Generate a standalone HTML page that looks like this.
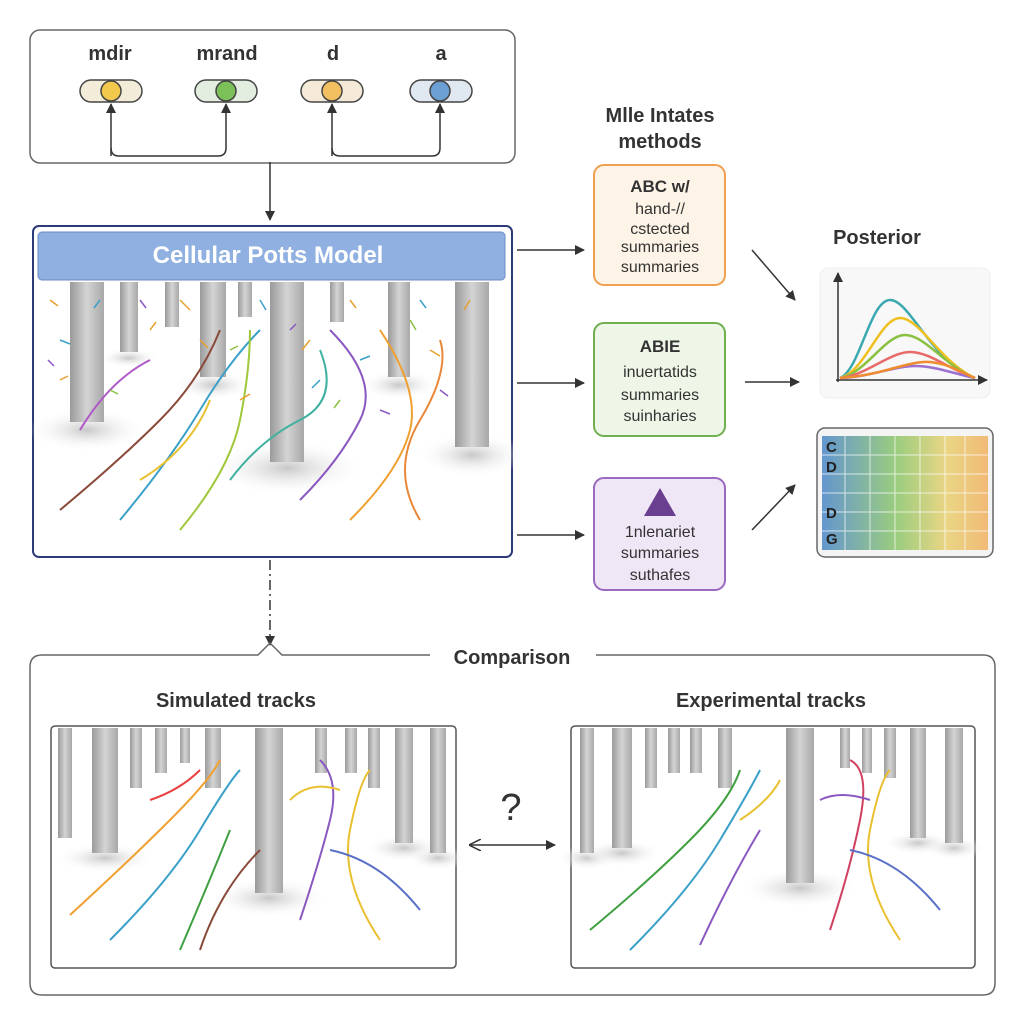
<!DOCTYPE html>
<html><head><meta charset="utf-8"><style>
html,body{margin:0;padding:0;background:#fff}
svg{display:block}
text{font-family:"Liberation Sans",sans-serif}
</style></head><body>
<svg width="1024" height="1024" viewBox="0 0 1024 1024" xmlns="http://www.w3.org/2000/svg">
<defs>
<marker id="ah" markerUnits="userSpaceOnUse" markerWidth="10" markerHeight="10" refX="9" refY="5" orient="auto"><path d="M0,0 L10,5 L0,10 z" fill="#333"/></marker>
<marker id="ah2" markerUnits="userSpaceOnUse" markerWidth="12" markerHeight="12" refX="1" refY="6" orient="auto"><path d="M12,0 L0,6 L12,12" fill="none" stroke="#333" stroke-width="1.5"/></marker>
<linearGradient id="pil" x1="0" x2="1"><stop offset="0" stop-color="#9a9a9a"/><stop offset="0.5" stop-color="#d4d4d4"/><stop offset="1" stop-color="#a8a8a8"/></linearGradient>
<linearGradient id="hm" x1="0" x2="1"><stop offset="0" stop-color="#4a86c8"/><stop offset="0.45" stop-color="#8cc66a"/><stop offset="0.75" stop-color="#e8d070"/><stop offset="1" stop-color="#f0b060"/></linearGradient>
<radialGradient id="gnd"><stop offset="0" stop-color="#c8c8c8"/><stop offset="1" stop-color="#ffffff" stop-opacity="0"/></radialGradient>
</defs>

<rect x="30" y="30" width="485" height="133" rx="10" fill="#fff" stroke="#666" stroke-width="1.5"/>
<g font-size="20" font-weight="bold" fill="#333" text-anchor="middle">
<text x="110" y="60">mdir</text><text x="227" y="60">mrand</text><text x="333" y="60">d</text><text x="441" y="60">a</text></g>
<g stroke="#444" stroke-width="1.5">
<rect x="80" y="80" width="62" height="22" rx="11" fill="#f3ecd8"/><circle cx="111" cy="91" r="10" fill="#f2c94c"/>
<rect x="195" y="80" width="62" height="22" rx="11" fill="#e4eee0"/><circle cx="226" cy="91" r="10" fill="#7cc05a"/>
<rect x="301" y="80" width="62" height="22" rx="11" fill="#f5ead8"/><circle cx="332" cy="91" r="10" fill="#f2c060"/>
<rect x="410" y="80" width="62" height="22" rx="11" fill="#e0e8f2"/><circle cx="440" cy="91" r="10" fill="#6c9fd4"/>
</g>
<g fill="none" stroke="#333" stroke-width="1.5">
<path d="M111,156 V104" marker-end="url(#ah)"/>
<path d="M111,148 Q111,156 119,156 H218 Q226,156 226,148 V104" marker-end="url(#ah)"/>
<path d="M332,156 V104" marker-end="url(#ah)"/>
<path d="M332,148 Q332,156 340,156 H432 Q440,156 440,148 V104" marker-end="url(#ah)"/>
<path d="M270,162 V220" marker-end="url(#ah)"/>
</g>

<rect x="33" y="226" width="479" height="331" rx="6" fill="#fff" stroke="#2c3a78" stroke-width="2"/>
<rect x="38" y="232" width="467" height="48" rx="4" fill="#8fb0e0" stroke="#6a8cc8"/>
<text x="268" y="263" font-size="24" font-weight="bold" fill="#fff" text-anchor="middle">Cellular Potts Model</text>
<g fill="url(#gnd)">
<ellipse cx="87" cy="430" rx="60" ry="22"/><ellipse cx="287" cy="468" rx="80" ry="28"/><ellipse cx="472" cy="455" rx="55" ry="22"/>
<ellipse cx="213" cy="385" rx="40" ry="15"/><ellipse cx="399" cy="385" rx="40" ry="15"/><ellipse cx="129" cy="358" rx="30" ry="10"/>
</g>
<g>
<rect x="70" y="282" width="34" height="140" fill="url(#pil)"/>
<rect x="120" y="282" width="18" height="70" fill="url(#pil)"/>
<rect x="165" y="282" width="14" height="45" fill="url(#pil)"/>
<rect x="200" y="282" width="26" height="95" fill="url(#pil)"/>
<rect x="238" y="282" width="14" height="35" fill="url(#pil)"/>
<rect x="270" y="282" width="34" height="180" fill="url(#pil)"/>
<rect x="330" y="282" width="14" height="40" fill="url(#pil)"/>
<rect x="388" y="282" width="22" height="95" fill="url(#pil)"/>
<rect x="455" y="282" width="34" height="165" fill="url(#pil)"/>
</g>
<g fill="none" stroke-width="2">
<path d="M60,510 Q120,460 160,420 T220,330" stroke="#8a4a3a"/>
<path d="M120,520 Q170,460 200,410 T260,330" stroke="#3aa0c8"/>
<path d="M180,530 Q230,470 240,420 T250,330" stroke="#a0c83a"/>
<path d="M300,500 Q340,460 360,420 T330,330" stroke="#8a58c0"/>
<path d="M350,520 Q400,470 410,430 T380,330" stroke="#f0a030"/>
<path d="M420,520 Q390,470 420,420 T440,340" stroke="#e88838"/>
<path d="M80,430 Q110,380 150,360" stroke="#b05ac8"/>
<path d="M230,480 Q260,440 300,420 T320,350" stroke="#40b0a0"/>
<path d="M140,480 Q190,450 210,400" stroke="#e8c030"/>
</g>
<g fill="none" stroke-width="1.5">
<path d="M50,300 l8,6 M150,330 l6,-8 M180,300 l10,10 M310,340 l-8,10 M350,300 l6,8 M430,350 l10,6 M60,380 l8,-4 M240,400 l10,-6 M470,300 l-6,10 M200,340 l8,8" stroke="#e8a030"/>
<path d="M100,300 l-6,8 M260,300 l6,10 M360,360 l10,-4 M420,300 l6,8 M60,340 l10,4 M320,380 l-8,8" stroke="#3aa0c8"/>
<path d="M140,300 l6,8 M290,330 l6,-6 M380,410 l10,4 M48,360 l6,6 M440,390 l8,6" stroke="#8a58c0"/>
<path d="M230,350 l8,-4 M410,320 l6,10 M110,390 l8,4 M340,400 l-6,8" stroke="#8ac040"/>
</g>

<g stroke="#333" stroke-width="1.5" fill="none">
<path d="M517,250 H584" marker-end="url(#ah)"/>
<path d="M517,383 H584" marker-end="url(#ah)"/>
<path d="M517,535 H584" marker-end="url(#ah)"/>
<path d="M752,250 L795,300" marker-end="url(#ah)"/>
<path d="M745,382 H799" marker-end="url(#ah)"/>
<path d="M752,530 L795,485" marker-end="url(#ah)"/>
</g>

<text x="660" y="122" font-size="20" font-weight="bold" fill="#333" text-anchor="middle">Mlle Intates</text>
<text x="660" y="148" font-size="20" font-weight="bold" fill="#333" text-anchor="middle">methods</text>

<rect x="594" y="165" width="131" height="120" rx="10" fill="#fdf3e6" stroke="#f0a050" stroke-width="2"/>
<g font-size="16" fill="#333" text-anchor="middle">
<text x="660" y="192" font-weight="bold" font-size="17">ABC w/</text>
<text x="660" y="214">hand-//</text><text x="660" y="234">cstected</text>
<text x="660" y="252">summaries</text><text x="660" y="272">summaries</text></g>

<rect x="594" y="323" width="131" height="113" rx="10" fill="#eef6e8" stroke="#70b050" stroke-width="2"/>
<g font-size="16" fill="#333" text-anchor="middle">
<text x="660" y="352" font-weight="bold" font-size="17">ABIE</text>
<text x="660" y="377">inuertatids</text><text x="660" y="400">summaries</text><text x="660" y="421">suinharies</text></g>

<rect x="594" y="478" width="131" height="112" rx="10" fill="#efe6f6" stroke="#9a6ac0" stroke-width="2"/>
<path d="M660,488 L676,516 H644 z" fill="#6a3f90"/>
<g font-size="16" fill="#333" text-anchor="middle">
<text x="660" y="537">1nlenariet</text><text x="660" y="558">summaries</text><text x="660" y="580">suthafes</text></g>

<text x="877" y="244" font-size="20" font-weight="bold" fill="#333" text-anchor="middle">Posterior</text>
<rect x="820" y="268" width="170" height="130" rx="8" fill="#f8f8f8" stroke="#eee"/>
<g fill="none" stroke="#333" stroke-width="1.5">
<path d="M838,382 V273" marker-end="url(#ah)"/><path d="M836,380 H987" marker-end="url(#ah)"/>
</g>
<g fill="none" stroke-width="2.5">
<path d="M840,378 C860,370 870,300 890,300 S930,360 975,378" stroke="#3aa8b0"/>
<path d="M840,378 C865,372 880,318 900,318 S940,362 975,378" stroke="#f0c020"/>
<path d="M840,378 C865,374 885,335 905,335 S945,366 975,378" stroke="#8ac040"/>
<path d="M840,378 C865,376 890,352 910,352 S950,370 975,378" stroke="#e86a6a"/>
<path d="M840,378 C870,377 895,366 915,366 S955,374 975,378" stroke="#9a70d0"/>
<path d="M840,378 C880,376 910,360 930,362 S960,372 975,378" stroke="#f08c30"/>
</g>

<rect x="817" y="428" width="176" height="129" rx="8" fill="#f4f4f4" stroke="#666" stroke-width="1.5"/>
<rect x="822" y="436" width="166" height="114" fill="url(#hm)" opacity="0.85"/>
<g stroke="#fff" stroke-width="1" opacity="0.7">
<path d="M822,455 H988 M822,474 H988 M822,493 H988 M822,512 H988 M822,531 H988"/>
<path d="M845,436 V550 M870,436 V550 M895,436 V550 M920,436 V550 M945,436 V550 M965,436 V550"/>
</g>
<g font-size="15" font-weight="bold" fill="#222"><text x="826" y="452">C</text><text x="826" y="472">D</text><text x="826" y="518">D</text><text x="826" y="544">G</text></g>

<path d="M270,560 V645" stroke="#333" stroke-width="1.5" stroke-dasharray="10,4,2,4" fill="none" marker-end="url(#ah)"/>

<path d="M42,655 H258 L270,643 L282,655 H430 M596,655 H983 Q995,655 995,667 V983 Q995,995 983,995 H42 Q30,995 30,983 V667 Q30,655 42,655" fill="none" stroke="#666" stroke-width="1.5"/>
<text x="512" y="664" font-size="20" font-weight="bold" fill="#333" text-anchor="middle">Comparison</text>
<text x="236" y="707" font-size="20" font-weight="bold" fill="#333" text-anchor="middle">Simulated tracks</text>
<text x="771" y="707" font-size="20" font-weight="bold" fill="#333" text-anchor="middle">Experimental tracks</text>

<g>
<rect x="51" y="726" width="405" height="242" rx="4" fill="#fff" stroke="#555" stroke-width="1.5"/>
<g fill="url(#gnd)">
<ellipse cx="105" cy="858" rx="50" ry="15"/><ellipse cx="269" cy="898" rx="60" ry="20"/><ellipse cx="404" cy="848" rx="40" ry="14"/><ellipse cx="438" cy="858" rx="30" ry="12"/>
</g>
<g fill="url(#pil)">
<rect x="58" y="728" width="14" height="110"/><rect x="92" y="728" width="26" height="125"/><rect x="130" y="728" width="12" height="60"/>
<rect x="155" y="728" width="12" height="45"/><rect x="180" y="728" width="10" height="35"/><rect x="205" y="728" width="16" height="60"/>
<rect x="255" y="728" width="28" height="165"/><rect x="315" y="728" width="12" height="45"/><rect x="345" y="728" width="12" height="45"/>
<rect x="368" y="728" width="12" height="60"/><rect x="395" y="728" width="18" height="115"/><rect x="430" y="728" width="16" height="125"/>
</g>
<g fill="none" stroke-width="2">
<path d="M70,915 Q130,860 170,820 T220,760" stroke="#f0a030"/>
<path d="M110,940 Q170,880 200,830 T240,770" stroke="#3aa0c8"/>
<path d="M180,950 Q210,880 230,830" stroke="#40a040"/>
<path d="M300,920 Q320,860 330,820 T320,760" stroke="#8a58c0"/>
<path d="M380,940 Q340,880 350,830 T370,770" stroke="#e8c030"/>
<path d="M420,910 Q380,860 330,850" stroke="#5a70c8"/>
<path d="M200,950 Q220,890 260,850" stroke="#8a4a3a"/>
<path d="M150,800 Q180,790 200,770" stroke="#e84040"/>
<path d="M290,800 Q310,780 340,790" stroke="#e8c030"/>
</g>
</g>

<g>
<rect x="571" y="726" width="404" height="242" rx="4" fill="#fff" stroke="#555" stroke-width="1.5"/>
<g fill="url(#gnd)">
<ellipse cx="587" cy="858" rx="30" ry="12"/><ellipse cx="622" cy="853" rx="40" ry="14"/><ellipse cx="800" cy="888" rx="60" ry="20"/><ellipse cx="918" cy="843" rx="35" ry="12"/><ellipse cx="954" cy="848" rx="30" ry="12"/>
</g>
<g fill="url(#pil)">
<rect x="580" y="728" width="14" height="125"/><rect x="612" y="728" width="20" height="120"/><rect x="645" y="728" width="12" height="60"/>
<rect x="668" y="728" width="12" height="45"/><rect x="690" y="728" width="12" height="45"/><rect x="718" y="728" width="14" height="60"/>
<rect x="786" y="728" width="28" height="155"/><rect x="840" y="728" width="10" height="40"/><rect x="862" y="728" width="10" height="45"/>
<rect x="884" y="728" width="12" height="50"/><rect x="910" y="728" width="16" height="110"/><rect x="945" y="728" width="18" height="115"/>
</g>
<g fill="none" stroke-width="2">
<path d="M590,930 Q650,880 690,840 T740,770" stroke="#40a040"/>
<path d="M630,950 Q690,890 720,840 T760,770" stroke="#3aa0c8"/>
<path d="M700,945 Q730,880 760,830" stroke="#8a58c0"/>
<path d="M830,930 Q850,870 860,820 T850,760" stroke="#d04060"/>
<path d="M900,940 Q860,880 870,830 T890,770" stroke="#e8c030"/>
<path d="M940,910 Q900,860 850,850" stroke="#5a70c8"/>
<path d="M740,820 Q770,800 780,780" stroke="#e8c030"/>
<path d="M820,800 Q840,790 870,800" stroke="#8a58c0"/>
</g>
</g>

<text x="511" y="820" font-size="38" fill="#333" text-anchor="middle">?</text>
<path d="M470,845 H555" stroke="#333" stroke-width="1.5" fill="none" marker-start="url(#ah2)" marker-end="url(#ah)"/>
</svg>
</body></html>
